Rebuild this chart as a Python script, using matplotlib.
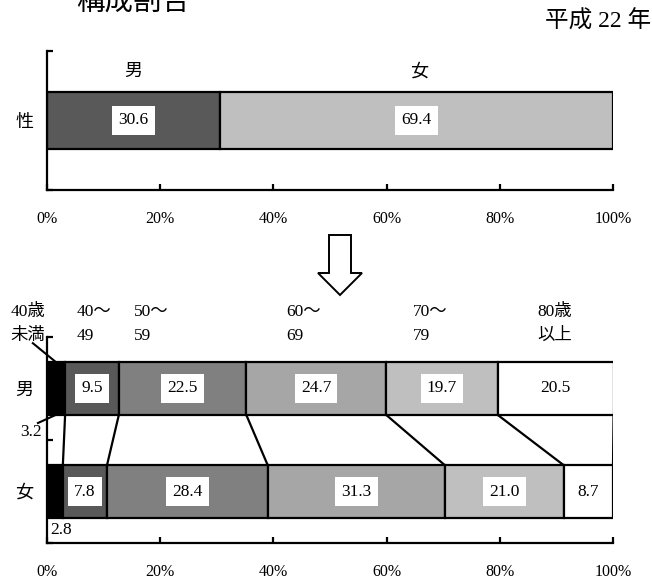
import matplotlib
matplotlib.use('Agg')
import matplotlib.pyplot as plt
from matplotlib.patches import Polygon
import numpy as np

plt.rcParams['font.family'] = ['Liberation Serif', 'Noto Sans CJK JP']

# top chart: sex ratio
sex_cat = '性'
sex_labels = ['男', '女']
sex_values = [30.6, 69.4]
sex_colors = ['#595959', '#bfbfbf']

# bottom chart: age groups by sex
age_labels = ['40歳\n未満', '40～\n49', '50～\n59', '60～\n69', '70～\n79', '80歳\n以上']
male_values = [3.2, 9.5, 22.5, 24.7, 19.7, 20.5]
female_values = [2.8, 7.8, 28.4, 31.3, 21.0, 8.7]
age_colors = ['#000000', '#595959', '#808080', '#a6a6a6', '#bfbfbf', '#ffffff']
xticks = [0, 20, 40, 60, 80, 100]

W, H = 652, 581
fig = plt.figure(figsize=(W / 100, H / 100), dpi=100)


def px_axes(left, top, right, bottom):
    return fig.add_axes([left / W, 1 - bottom / H, (right - left) / W, (bottom - top) / H])


def style_axes(ax, boundaries):
    for s in ['top', 'right']:
        ax.spines[s].set_visible(False)
    for s in ['left', 'bottom']:
        ax.spines[s].set_linewidth(1.6)
    ax.set_xlim(0, 100)
    ax.set_xticks(xticks)
    ax.set_xticklabels([f'{t}%' for t in xticks], fontsize=11.5)
    ax.tick_params(axis='x', direction='in', length=4, width=1.6, pad=15)
    ax.set_yticks(boundaries, minor=True)
    ax.tick_params(axis='y', which='minor', direction='in', length=4, width=1.6)
    ax.tick_params(axis='y', which='major', length=0, pad=10, labelsize=13)


def value_label(ax, x, y, v):
    ax.text(x, y, f'{v:.1f}', ha='center', va='center', fontsize=12.5,
            bbox=dict(boxstyle='square,pad=0.35', fc='white', ec='none'))


# ---- top chart
ax1 = px_axes(47, 51, 613, 190)
ax1.set_ylim(-0.5, 0.5)
left = 0
for lab, v, c in zip(sex_labels, sex_values, sex_colors):
    ax1.barh(0, v, left=left, height=0.41, color=c, edgecolor='black', linewidth=1.6)
    value_label(ax1, left + v / 2, 0, v)
    left += v
ax1.set_yticks([0])
ax1.set_yticklabels([sex_cat])
style_axes(ax1, [-0.5, 0.5])
sex_lab_x = [13.6, 64.1]
for lab, x in zip(sex_labels, sex_lab_x):
    ax1.text(x, 0.35, lab, ha='left', va='center', fontsize=13)

# ---- bottom chart
ax2 = px_axes(47, 337, 613, 543)
ax2.set_ylim(0, 2)
bh = 0.51
rows = [(1.5, male_values), (0.5, female_values)]
for y, vals in rows:
    left = 0
    for v, c in zip(vals, age_colors):
        ax2.barh(y, v, left=left, height=bh, color=c, edgecolor='black', linewidth=1.6)
        if v > 5:
            value_label(ax2, left + v / 2, y, v)
        left += v
ax2.set_yticks([1.5, 0.5])
ax2.set_yticklabels(['男', '女'])
style_axes(ax2, [0, 1, 2])

# connecting lines between the two bars
cm = np.cumsum(male_values)
cf = np.cumsum(female_values)
for a, b in zip(cm, cf):
    ax2.plot([a, b], [1.5 - bh / 2, 0.5 + bh / 2], color='black', lw=1.6,
             solid_capstyle='butt')

# age group labels (two lines each)
age_lab_x = [-6.5, 5.3, 15.3, 42.2, 64.7, 86.6]
for lab, x in zip(age_labels, age_lab_x):
    l1, l2 = lab.split('\n')
    ax2.text(x, 2.243, l1, ha='left', va='center', fontsize=12.5, clip_on=False)
    ax2.text(x, 2.01, l2, ha='left', va='center', fontsize=12.5, clip_on=False)

# small segment labels outside the bars
ax2.plot([-2.5, male_values[0] / 2], [1.94, 1.755], color='black', lw=1.5, clip_on=False)
ax2.text(-2.9, 1.08, f'{male_values[0]:.1f}', ha='center', va='center', fontsize=12.5)
ax2.plot([-1.6, male_values[0] / 2], [1.165, 1.245], color='black', lw=1.5, clip_on=False)
ax2.text(0.5, 0.13, f'{female_values[0]:.1f}', ha='left', va='center', fontsize=12.5)

# down arrow between the charts
pts = [(329, 235), (351, 235), (351, 273), (362, 273), (340, 295), (318, 273), (329, 273)]
fig.patches.append(Polygon([(x / W, 1 - y / H) for x, y in pts], closed=True,
                           transform=fig.transFigure, fc='white', ec='black', lw=1.4))

# title sits partly above the top edge, as in the source image
fig.text(76 / W, 1 - 2 / H, '構成割合', ha='left', va='center', fontsize=20.5)
fig.text(651 / W, 1 - 22 / H, '平成 22 年', ha='right', va='center', fontsize=17)

fig.savefig('out.png', dpi=100)
